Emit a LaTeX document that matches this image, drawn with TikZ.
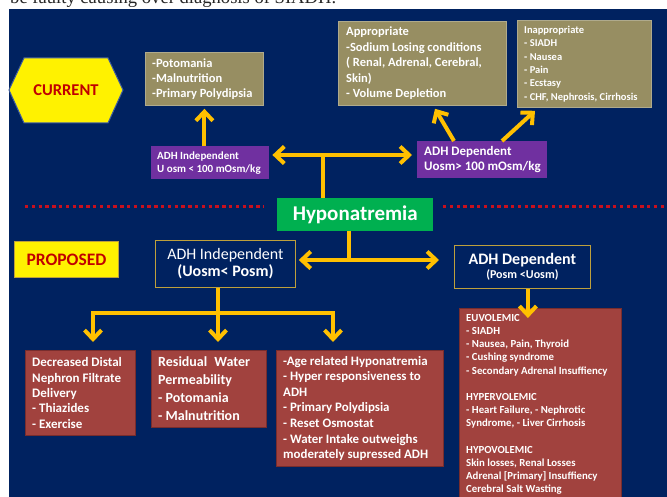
\documentclass[tikz,border=0pt]{standalone}
\usepackage{fontspec}
\setmainfont{Carlito}
\newfontfamily\headserif{Liberation Serif}
\usetikzlibrary{arrows.meta,calc}

\definecolor{navy}{RGB}{0,34,96}
\definecolor{khaki}{RGB}{151,142,98}
\definecolor{khakiedge}{RGB}{175,170,140}
\definecolor{plum}{RGB}{112,48,160}
\definecolor{leaf}{RGB}{0,176,80}
\definecolor{brick}{RGB}{161,66,62}
\definecolor{brickedge}{RGB}{120,45,45}
\definecolor{gold}{RGB}{255,192,0}
\definecolor{crimson}{RGB}{192,0,0}
\definecolor{dotred}{RGB}{200,16,30}
\definecolor{hexedge}{RGB}{60,90,160}
\definecolor{propedge}{RGB}{190,160,60}

\newcommand\fsz[2]{\fontsize{#1}{#2}\selectfont}

\begin{document}
\begin{tikzpicture}[x=1pt,y=-1pt,
  every node/.style={inner sep=0pt},
  panel/.style={anchor=north west, inner sep=0pt},
  kbox/.style={panel, fill=khaki, draw=khakiedge, line width=0.8pt},
  pbox/.style={panel, fill=plum},
  rbox/.style={panel, fill=brick, draw=brickedge, line width=0.8pt},
  nbox/.style={panel, fill=navy, draw=propedge, line width=0.8pt},
  txt/.style={anchor=west, align=left, text=white},
  pipe/.style={draw=gold, line width=4pt},
  arr/.style={pipe, -{Straight Barb[length=9pt,width=17pt]}},
  dbl/.style={pipe, {Straight Barb[length=9pt,width=17pt]}-{Straight Barb[length=9pt,width=17pt]}},
  dotline/.style={draw=dotred, line width=3pt, dash pattern=on 3.4pt off 3.4pt},
]
\useasboundingbox (0,0) rectangle (667,497);
\clip (0,0) rectangle (667,497);

% page background and the slide panel
\fill[white] (0,0) rectangle (667,497);
\node[anchor=base west, font=\headserif\fsz{18.6}{20}, text=black!85] (head) at (10,3.5)
  {be faulty causing over diagnosis of SIADH.};
\fill[navy] (9,9.5) rectangle (667,497);

% ---------- current scheme ----------
\filldraw[fill=yellow, draw=hexedge, line width=1pt]
  (9,90) -- (24,58) -- (108,58) -- (123,90) -- (108,123) -- (24,123) -- cycle;
\node[text=crimson, font=\bfseries\fsz{16.5}{18}] (current) at (66,90) {CURRENT};

\node[kbox, minimum width=118pt, minimum height=53pt] (potbox) at (145,52) {};
\node[txt, font=\bfseries\fsz{12.5}{15}] (pottext) at ($(potbox.west)+(7,0)$)
  {-Potomania\\-Malnutrition\\-Primary Polydipsia};

\node[kbox, minimum width=168pt, minimum height=84pt] (approp) at (338,21) {};
\node[txt, font=\bfseries\fsz{12.5}{15.5}] (approptext) at ($(approp.west)+(8,0)$)
  {Appropriate\\-Sodium Losing conditions\\( Renal, Adrenal, Cerebral,\\Skin)\\- Volume Depletion};

\node[kbox, minimum width=134pt, minimum height=87pt] (inapprop) at (517,20) {};
\node[txt, font=\bfseries\fsz{10.5}{13.3}] (inapproptext) at ($(inapprop.west)+(7,0)$)
  {Inappropriate\\- SIADH\\- Nausea\\- Pain\\- Ecstasy\\- CHF, Nephrosis, Cirrhosis};

\node[pbox, minimum width=118pt, minimum height=33pt] (indcur) at (151,146) {};
\node[txt, font=\bfseries\fsz{11}{12.8}] (indcurtext) at ($(indcur.west)+(6,0)$)
  {ADH Independent\\U osm < 100 mOsm/kg};

\node[pbox, minimum width=130pt, minimum height=37pt] (depcur) at (417,141) {};
\node[txt, font=\bfseries\fsz{13}{15.5}] (depcurtext) at ($(depcur.west)+(7,0)$)
  {ADH Dependent\\Uosm> 100 mOsm/kg};

% ---------- root ----------
\node[panel, fill=leaf, minimum width=156pt, minimum height=33pt, text=white,
      font=\bfseries\fsz{21}{24}] (hypo) at (277,198) {Hyponatremia};

\draw[dotline] (25,207) -- (264,207);
\draw[dotline] (443,207) -- (667,207);

% ---------- proposed scheme ----------
\node[panel, fill=yellow, draw=propedge, line width=1pt, minimum width=104pt,
      minimum height=36pt, text=crimson, font=\bfseries\fsz{17.5}{20}] (proposed) at (14,241) {PROPOSED};

\node[nbox, minimum width=140pt, minimum height=47pt] (indprop) at (155,240) {};
\node[align=center, text=white, font=\fsz{16}{17.5}] (indproptext) at (indprop.center)
  {ADH Independent\\\textbf{(Uosm< Posm)}};

\node[nbox, minimum width=136pt, minimum height=43pt] (depprop) at (454,245) {};
\node[align=center, text=white, font=\bfseries\fsz{16}{14}] (depproptext) at (depprop.center)
  {ADH Dependent\\{\fsz{12}{14}(Posm <Uosm)}};

\node[rbox, minimum width=110pt, minimum height=85pt] (box1) at (25,350) {};
\node[txt, font=\bfseries\fsz{13}{15.3}] (box1text) at ($(box1.west)+(7,0)$)
  {Decreased Distal\\Nephron Filtrate\\Delivery\\- Thiazides\\- Exercise};

\node[rbox, minimum width=115pt, minimum height=77pt] (box2) at (151,350) {};
\node[txt, font=\bfseries\fsz{14}{18}] (box2text) at ($(box2.west)+(7,0)$)
  {Residual\enspace Water\\Permeability\\- Potomania\\- Malnutrition};

\node[rbox, minimum width=167pt, minimum height=116pt] (box3) at (276,350) {};
\node[txt, font=\bfseries\fsz{12.9}{15.6}] (box3text) at ($(box3.west)+(7,0)$)
  {-Age related Hyponatremia\\- Hyper responsiveness to\\ADH\\- Primary Polydipsia\\- Reset Osmostat\\- Water Intake outweighs\\moderately supressed ADH};

\node[rbox, minimum width=162pt, minimum height=200pt] (box4) at (459,308) {};
\node[anchor=north west, align=left, text=white, font=\bfseries\fsz{10.8}{13.2}] (box4text) at (466,314)
  {EUVOLEMIC\\
   - SIADH\\
   - Nausea, Pain, Thyroid\\
   - Cushing syndrome\\
   - Secondary Adrenal Insuffiency\\[13.2pt]
   HYPERVOLEMIC\\
   - Heart Failure, - Nephrotic\\
   Syndrome, - Liver Cirrhosis\\[13.2pt]
   HYPOVOLEMIC\\
   Skin losses, Renal Losses\\
   Adrenal [Primary] Insuffiency\\
   Cerebral Salt Wasting};

% ---------- connectors ----------
\coordinate (cj) at (323,155);
\draw[pipe] (cj) -- (cj |- hypo.north);
\draw[dbl, shorten <=3pt, shorten >=5pt] (indcur.east |- cj) -- (depcur.west |- cj);
\draw[arr, shorten >=3pt] (potbox.south |- indcur.north) -- (potbox.south);
\draw[arr] ($(depcur.north west)+(37,0)$) -- ($(approp.south west)+(97,3)$);
\draw[arr] ($(depcur.north west)+(85,0)$) -- ($(inapprop.south west)+(18,3)$);

\coordinate (pj) at (349,260);
\draw[pipe] (pj |- hypo.south) -- (pj);
\draw[dbl, shorten <=3pt, shorten >=15pt] (indprop.east |- pj) -- (depprop.west |- pj);

\coordinate (tj) at (218,313);
\draw[arr, shorten >=8pt] (tj |- indprop.south) -- (tj |- box2.north);
\draw[arr, shorten >=8pt] (tj) -| ($(box1.north west)+(68,0)$);
\draw[arr, shorten >=8pt] (tj) -| ($(box3.north west)+(57,0)$);

\coordinate (dj) at ($(depprop.south)+(5.5,0)$);
\draw[arr, shorten >=-10pt] (dj) -- (dj |- box4.north);
\end{tikzpicture}
\end{document}
